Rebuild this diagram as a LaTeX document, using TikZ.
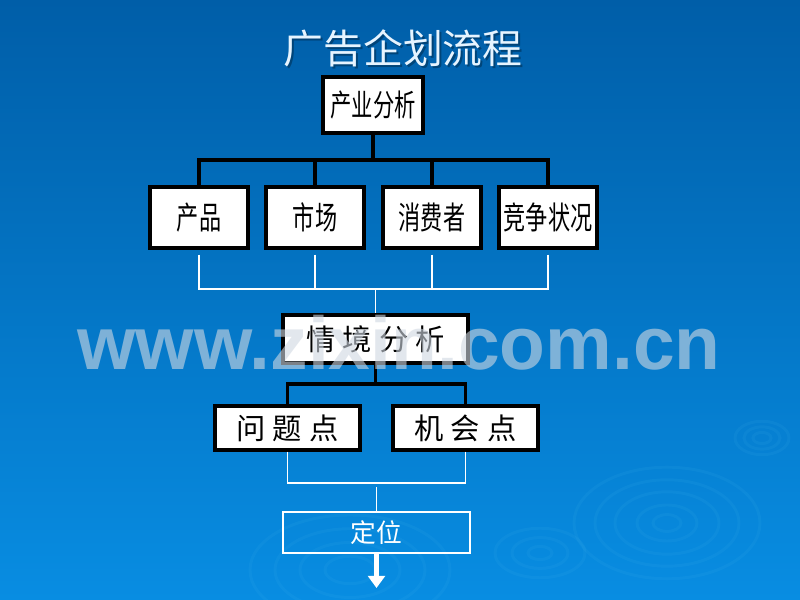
\documentclass[tikz,border=0pt]{standalone}
\usepackage{fontspec}
\usepackage{tikz}
\usetikzlibrary{arrows.meta}
\newfontfamily\cjknarrow[FakeStretch=0.7]{Noto Sans CJK SC}
\newfontfamily\cjkfont{Noto Sans CJK SC}
\newfontfamily\markfont{Liberation Sans}
\definecolor{bgtop}{HTML}{005EA8}
\definecolor{bgbottom}{HTML}{088DE2}
\definecolor{titlecol}{HTML}{E6F4FF}
\definecolor{markcol}{HTML}{D0D8E2}

\begin{document}
\begin{tikzpicture}[x=0.03cm , y=0.03cm ,
  blackbox/.style={draw , fill=white , line width=2.8pt , inner sep=0pt , font=\cjknarrow\fontsize{27}{27}\selectfont} ,
  rowbox/.style={blackbox , minimum width=2.94cm , minimum height=1.83cm} ,
  widebox/.style={blackbox , font=\cjkfont\fontsize{25}{25}\selectfont} ,
  blackline/.style={line width=2.8pt} ,
  whiteline/.style={draw=white , line width=1.1pt} ,
  ripple/.style={draw=cyan!60 , opacity=0.07 , line width=2.5pt}]
   \shade [top color=bgtop , bottom color=bgbottom] (0 , 0) rectangle (800 , 600);
   \begin{scope}
     \clip (0 , 0) rectangle (800 , 600);
     \foreach \r in {93,72,52,30,14} \draw [ripple] (667 , 77) ellipse ({\r} and {0.6*\r});
     \foreach \r in {27,18,9} \draw [ripple] (762 , 162) ellipse ({\r} and {0.62*\r});
     \foreach \r in {100,75,50,25} \draw [ripple] (350 , 30) ellipse ({\r} and {0.55*\r});
     \foreach \r in {45,28,12} \draw [ripple] (540 , 47) ellipse ({\r} and {0.55*\r});
   \end{scope}

   \node [font=\cjkfont\fontsize{34}{34}\selectfont , text=black , opacity=0.3] at (405 , 550) {广告企划流程};
   \node [font=\cjkfont\fontsize{34}{34}\selectfont , text=titlecol] (title) at (403 , 552) {广告企划流程};

   \node [blackbox , minimum width=3cm , minimum height=1.68cm , font=\cjknarrow\fontsize{26}{26}\selectfont] (industry) at (373 , 495) {产业分析};
   \node [rowbox] (product) at (199 , 382.5) {产品};
   \node [rowbox] (market) at (315 , 382.5) {市场};
   \node [rowbox] (consumer) at (432 , 382.5) {消费者};
   \node [rowbox] (rivalry) at (548 , 382.5) {竞争状况};
   \node [widebox , minimum width=5.55cm , minimum height=1.44cm] (situation) at (375.5 , 261) {情\hspace{6pt}境\hspace{6pt}分\hspace{6pt}析};
   \node [widebox , minimum width=4.35cm , minimum height=1.32cm] (problem) at (287.5 , 172) {问\hspace{6pt}题\hspace{6pt}点};
   \node [widebox , minimum width=4.35cm , minimum height=1.32cm] (chance) at (465.5 , 172) {机\hspace{6pt}会\hspace{6pt}点};
   \node [draw=white , line width=1.1pt , text=white , font=\cjkfont\fontsize{22}{22}\selectfont , minimum width=5.61cm , minimum height=1.23cm] (position) at (376.5 , 67.5) {定位};

   \coordinate (split1) at (373 , 440);
   \coordinate (join1) at (375.5 , 311);
   \coordinate (split2) at (375.5 , 216);
   \coordinate (join2) at (376.5 , 117);
   \coordinate (tip) at (376.5 , 12);

   \draw [blackline] (industry) -- (split1);
   \foreach \n in {product,market,consumer,rivalry} \draw [blackline] (split1) -| (\n.north);
   \foreach \n in {product,market,consumer,rivalry} \draw [whiteline , shorten <=0.15cm] (\n.south) |- (join1);
   \draw [whiteline] (join1) -- (situation.north);
   \draw [blackline] (situation) -- (split2);
   \draw [blackline] (split2) -| (problem.north);
   \draw [blackline] (split2) -| (chance.north);
   \draw [whiteline] (problem.south) |- (join2);
   \draw [whiteline] (chance.south) |- (join2);
   \draw [whiteline , shorten <=0.12cm] (join2) -- (position.north);
   \draw [white , line width=3.5pt , -{Triangle[width=0.5cm , length=0.36cm]}] (position) -- (tip);

   \node [font=\markfont\bfseries\fontsize{64}{64}\selectfont , text=markcol , opacity=0.6 , anchor=base] (mark) at (399 , 230) {www.zixin.com.cn};
\end{tikzpicture}
\end{document}
